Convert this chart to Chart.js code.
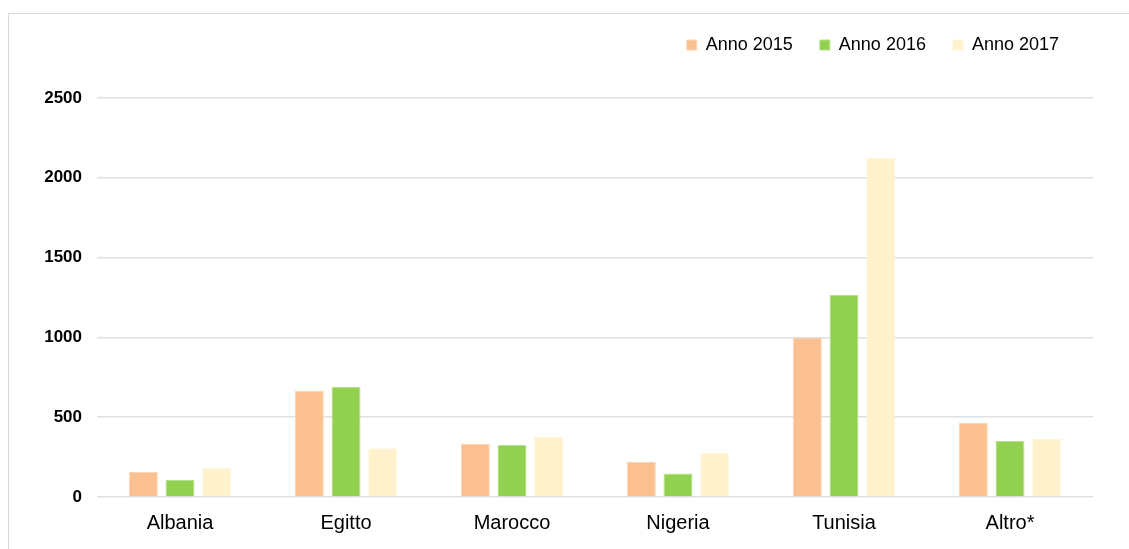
<!DOCTYPE html>
<html>
<head>
<meta charset="utf-8">
<script src="https://cdn.jsdelivr.net/npm/chart.js@4.4.1/dist/chart.umd.min.js"></script>
<style>
  html, body { margin: 0; padding: 0; background: #ffffff; }
  #wrap { position: relative; width: 1129px; height: 549px; overflow: hidden; }
  #frame { position: absolute; left: 8px; top: 13px; width: 1200px; height: 600px;
           border-left: 1px solid #d9d9d9; border-top: 1px solid #d9d9d9; box-sizing: border-box; }
  canvas { position: absolute; left: 0; top: 0; }
</style>
</head>
<body>
<div id="wrap">
  <div id="frame"></div>
  <canvas id="c" width="1129" height="549"></canvas>
</div>
<script>
// Paesi di provenienza
const categories = ['Albania', 'Egitto', 'Marocco', 'Nigeria', 'Tunisia', 'Altro*'];
// Valori per anno
const anno2015 = [157, 666, 332, 219, 1000, 464];
const anno2016 = [106, 691, 326, 148, 1266, 351];
const anno2017 = [184, 305, 376, 276, 2126, 363];
// Etichette dell'asse verticale
const yTicks = [0, 500, 1000, 1500, 2000, 2500];

const FONT = "'Liberation Sans', Arial, sans-serif";

// fixed height for the legend band above the plot, and a small nudge of its items
const legendTweak = {
  id: 'legendTweak',
  beforeInit(chart) {
    const legend = chart.legend;
    const fit = legend.fit;
    legend.fit = function () {
      fit.call(this);
      this.height = 90;
    };
    const draw = legend.draw;
    legend.draw = function () {
      const ctx = this.ctx;
      ctx.save();
      ctx.translate(-7, 1);
      draw.call(this);
      ctx.restore();
    };
  }
};

new Chart(document.getElementById('c'), {
  type: 'bar',
  data: {
    labels: categories,
    datasets: [
      { label: 'Anno 2015', data: anno2015, backgroundColor: '#FAC090', borderColor: '#FCD5B4', borderWidth: 1 },
      { label: 'Anno 2016', data: anno2016, backgroundColor: '#92D050', borderColor: '#B5E08C', borderWidth: 1 },
      { label: 'Anno 2017', data: anno2017, backgroundColor: '#FFF2CC', borderColor: '#FFF6DD', borderWidth: 1 }
    ]
  },
  options: {
    responsive: false,
    animation: false,
    layout: { padding: { top: 8, right: 36, left: 0, bottom: 0 } },
    datasets: { bar: { categoryPercentage: 0.663, barPercentage: 0.79 } },
    plugins: {
      tooltip: { enabled: false },
      legend: {
        position: 'top',
        align: 'end',
        labels: {
          boxWidth: 10, boxHeight: 10, padding: 27,
          color: '#000000',
          font: { family: FONT, size: 18 }
        }
      }
    },
    scales: {
      x: {
        grid: { display: false, drawTicks: false },
        border: { display: false },
        ticks: { color: '#000000', padding: 14, font: { family: FONT, size: 20 } },
        afterFit(scale) { scale.height = 52; }
      },
      y: {
        min: 0, max: 2500,
        afterBuildTicks(scale) { scale.ticks = yTicks.map(v => ({ value: v })); },
        grid: { color: '#e0e0e0', lineWidth: 1.5, drawTicks: false },
        border: { display: false },
        ticks: {
          color: '#000000', padding: 15,
          font: { family: FONT, size: 17, weight: 'bold' },
          callback: v => String(v)
        },
        afterFit(scale) { scale.width = 97; }
      }
    }
  },
  plugins: [legendTweak]
});
</script>
</body>
</html>
